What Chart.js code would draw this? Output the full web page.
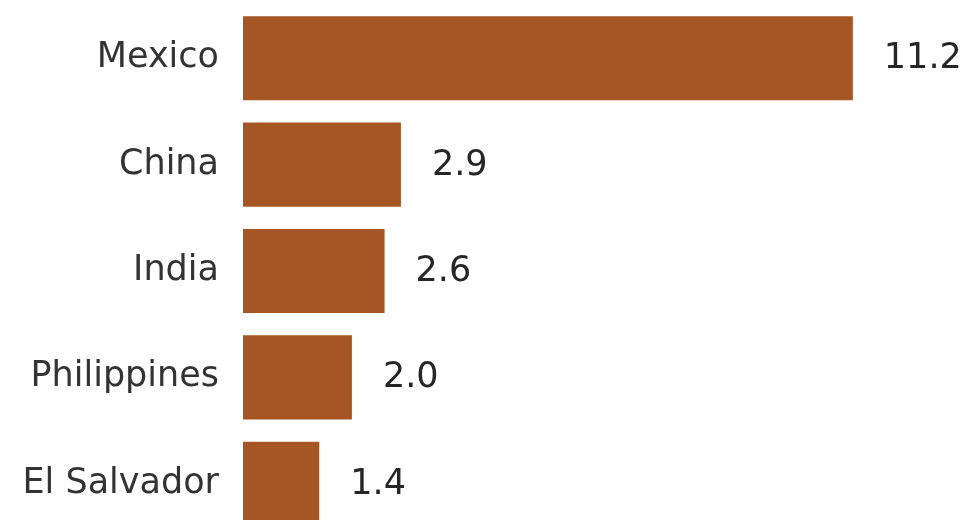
<!DOCTYPE html>
<html>
<head>
<meta charset="utf-8">
<script src="https://cdn.jsdelivr.net/npm/chart.js@4.4.0/dist/chart.umd.min.js"></script>
<style>
  html, body { margin: 0; padding: 0; background: #fff; overflow: hidden; }
  #wrap { position: relative; width: 977px; height: 537px; }
</style>
</head>
<body>
<div id="wrap"><canvas id="bar_chart_canvas"></canvas></div>
<script>
// countries and their values (millions)
var countries = ['Mexico', 'China', 'India', 'Philippines', 'El Salvador'];
var values = [11.2, 2.9, 2.6, 2.0, 1.4];

var barColor = 'rgb(166, 86, 36)';
var fontFamily = '"DejaVu Sans", sans-serif';

// writes the value just right of each bar
var valueLabels = {
    id: 'valueLabels',
    afterDatasetsDraw: function(chart) {
        var ctx = chart.ctx;
        var meta = chart.getDatasetMeta(0);
        ctx.save();
        ctx.font = '35px ' + fontFamily;
        ctx.fillStyle = '#262626';
        ctx.textAlign = 'left';
        ctx.textBaseline = 'middle';
        meta.data.forEach(function(bar, i) {
            ctx.fillText(values[i].toFixed(1), bar.x + 31, bar.y + 1);
        });
        ctx.restore();
    }
};

var ctx = document.getElementById('bar_chart_canvas').getContext('2d');
var chart = new Chart(ctx, {
    type: 'bar',
    data: {
        labels: countries,
        datasets: [{
            data: values,
            backgroundColor: barColor,
            borderWidth: 0,
            categoryPercentage: 1,
            barPercentage: 0.79
        }]
    },
    options: {
        indexAxis: 'y',
        responsive: true,
        maintainAspectRatio: false,
        animation: false,
        layout: { padding: { top: 5, right: 0, bottom: 0, left: 0 } },
        plugins: {
            legend: { display: false },
            tooltip: { enabled: false }
        },
        scales: {
            x: {
                display: false,
                min: 0,
                max: 13.48
            },
            y: {
                grid: { display: false, drawTicks: false },
                border: { display: false },
                ticks: {
                    padding: 24,
                    color: '#333',
                    font: { family: fontFamily, size: 35 }
                },
                afterFit: function(scale) {
                    // fixed label column, no extra space above/below the bars
                    scale.width = 243;
                    scale.paddingTop = 0;
                    scale.paddingBottom = 0;
                }
            }
        }
    },
    plugins: [valueLabels]
});
</script>
</body>
</html>
